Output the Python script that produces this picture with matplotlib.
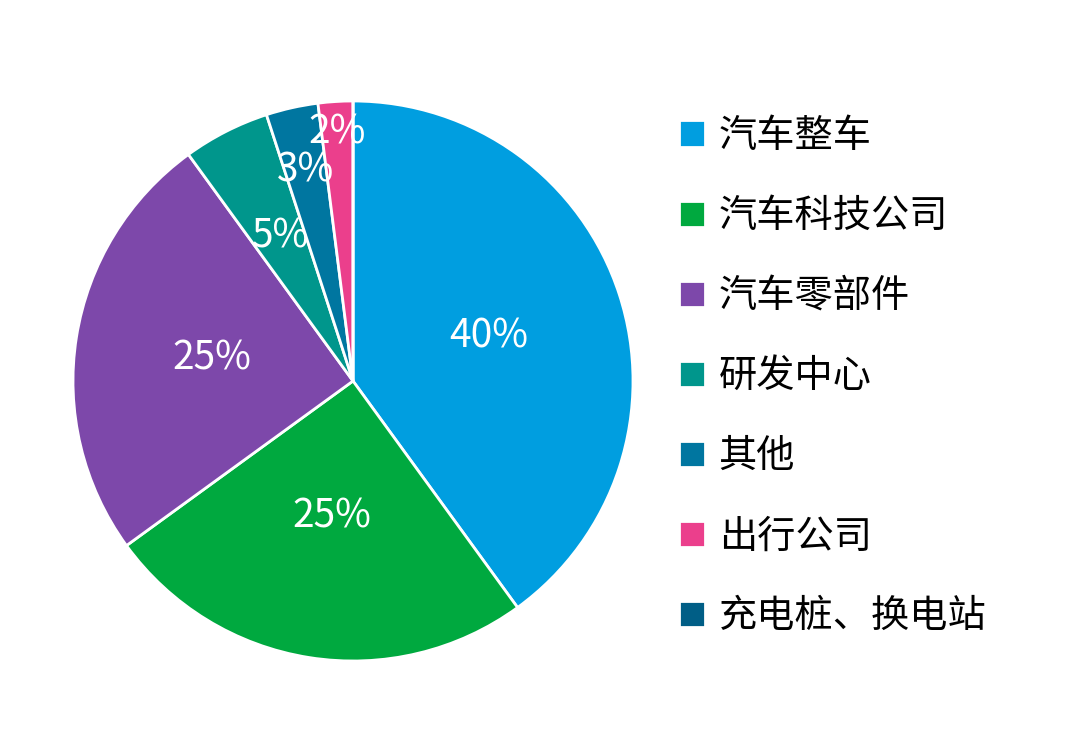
import matplotlib
matplotlib.use("Agg")
import matplotlib.pyplot as plt
import numpy as np

plt.rcParams['font.family'] = ['Noto Sans CJK SC', 'DejaVu Sans']

categories = ["汽车整车", "汽车科技公司", "汽车零部件", "研发中心", "其他", "出行公司", "充电桩、换电站"]
shares = [40, 25, 25, 5, 3, 2, 0]
colors = ["#009EE0", "#00A93F", "#7D48AA", "#00968C", "#0076A0", "#EB3F8C", "#005E86"]
label_dist = [0.51, 0.49, 0.51, 0.58, 0.77, 0.89, 0.9]

fig = plt.figure(figsize=(10.8, 7.33), dpi=100)
ax = fig.add_axes([73 / 1080, 72 / 733, 560 / 1080, 560 / 733])

wedges, _ = ax.pie(shares, colors=colors, startangle=90, counterclock=False,
                   wedgeprops=dict(edgecolor="white", linewidth=2))
ax.set_xlim(-1.0, 1.0)
ax.set_ylim(-1.0, 1.0)
ax.set_aspect("equal")

for w, v, d in zip(wedges, shares, label_dist):
    if v == 0:
        continue
    ang = np.deg2rad((w.theta1 + w.theta2) / 2)
    ax.text(d * np.cos(ang), d * np.sin(ang), f"{v}%", ha="center", va="center",
            color="white", fontsize=28)

fig.legend(wedges, categories, loc="upper left", bbox_to_anchor=(679 / 1080, 1 - 117 / 733),
           frameon=False, fontsize=27.5, handlelength=0.68, handleheight=0.68,
           labelspacing=1.075, handletextpad=0.36, borderpad=0, borderaxespad=0)

fig.savefig("out.png", dpi=100, facecolor="white")
